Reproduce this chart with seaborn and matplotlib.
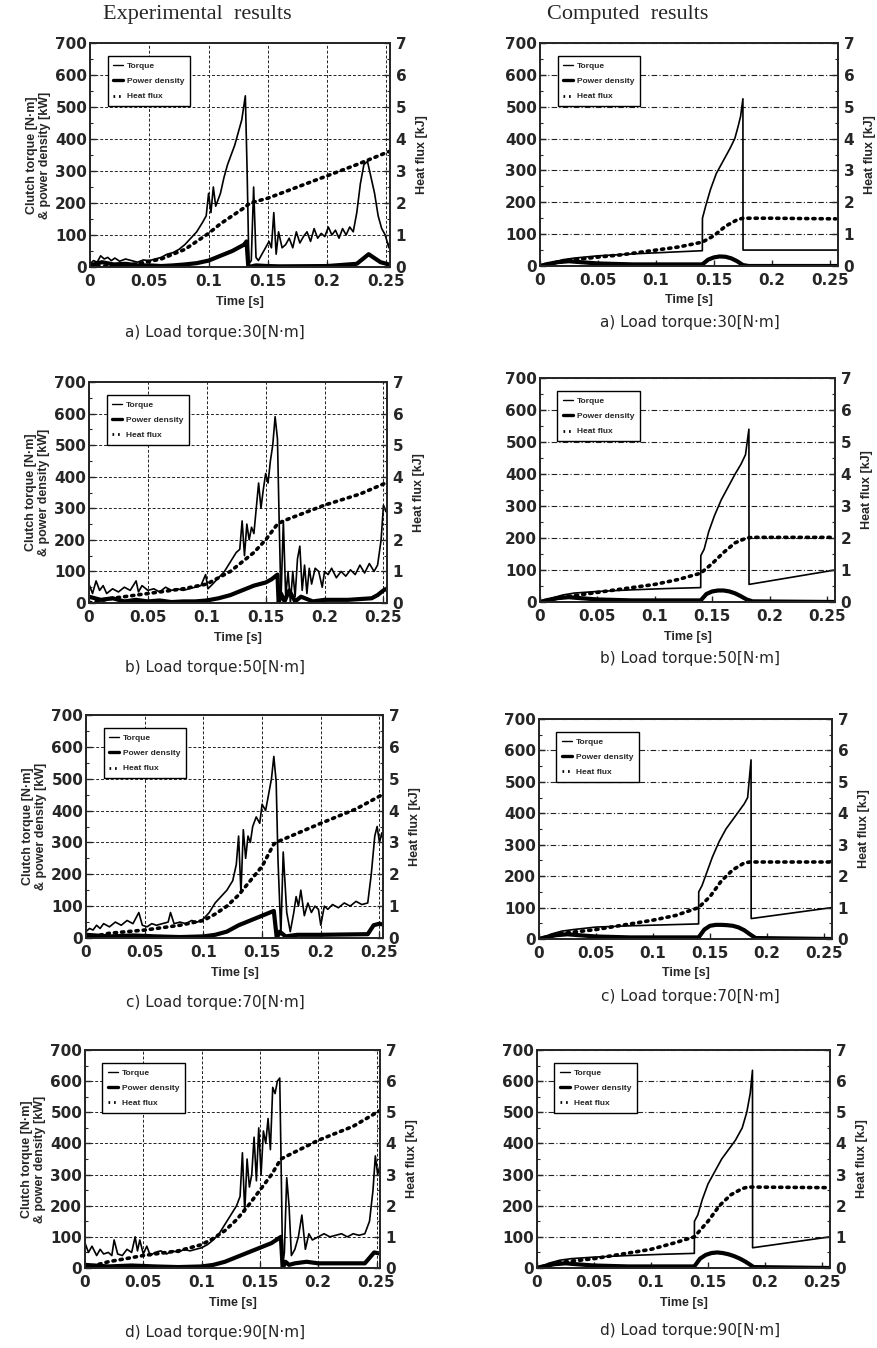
import numpy as np
import pandas as pd
import seaborn as sns
import matplotlib.pyplot as plt
from matplotlib.lines import Line2D
from matplotlib.ticker import MultipleLocator

# ---------------- Data ----------------
# Experimental results, load torque 30 N·m
exp30_torque_t = [0, .003, .006, .009, .012, .015, .018, .021, .025, .03, .035, .04, .045, .05, .055, .06,
                  .065, .07, .075, .08, .085, .09, .095, .098, .1, .102, .104, .106, .108, .11, .113, .116,
                  .119, .122, .125, .128, .131, .1325, .134, .136, .138, .14, .142, .145, .148, .151, .153,
                  .155, .157, .159, .162, .165, .168, .171, .174, .177, .18, .183, .186, .189, .192, .195,
                  .198, .201, .204, .207, .21, .213, .216, .219, .222, .225, .228, .231, .234, .237, .24,
                  .243, .246, .249, .252, .255]
exp30_torque = [10, 20, 15, 35, 25, 30, 20, 28, 18, 25, 20, 15, 22, 20, 25, 30,
                40, 45, 55, 70, 90, 110, 140, 160, 230, 170, 250, 190, 210, 230, 280, 320,
                350, 380, 420, 460, 535, 300, 10, 20, 250, 30, 20, 40, 60, 80, 60,
                170, 40, 110, 60, 70, 90, 60, 110, 75, 95, 110, 80, 120, 90, 105,
                95, 125, 100, 115, 90, 120, 100, 125, 110, 170, 260, 320, 330, 280, 230,
                160, 120, 100, 60, 130]
exp30_power_t = [0, .01, .02, .03, .04, .05, .06, .07, .08, .09, .1, .11, .12, .13, .132, .1335,
                 .14, .15, .16, .2, .225, .235, .245, .255]
exp30_power = [5, 15, 8, 10, 5, 5, 3, 5, 8, 12, 20, 35, 50, 70, 80, 0,
               5, 3, 2, 3, 10, 40, 15, 5]
exp30_heat_t = [0, .02, .04, .06, .07, .08, .09, .1, .11, .12, .13, .135, .15, .175, .2, .225, .255]
exp30_heat = [0, .03, .1, .25, .4, .55, .8, 1.05, 1.35, 1.6, 1.85, 2.0, 2.15, 2.5, 2.85, 3.2, 3.65]

# Experimental results, load torque 50 N·m
exp50_torque_t = [0, .003, .006, .009, .012, .015, .02, .025, .03, .035, .04, .042, .045, .05, .055, .06,
                  .065, .07, .075, .08, .085, .09, .095, .099, .101, .105, .11, .115, .12, .125, .128, .13,
                  .132, .134, .136, .138, .14, .142, .144, .146, .148, .15, .152, .154, .156, .158, .16,
                  .1615, .163, .165, .167, .169, .171, .173, .175, .177, .179, .181, .183, .185, .187, .189,
                  .192, .195, .198, .2, .203, .206, .21, .214, .218, .222, .226, .23, .234, .238, .242,
                  .245, .248, .25, .252, .255]
exp50_torque = [60, 30, 70, 40, 55, 30, 45, 35, 50, 40, 70, 35, 55, 40, 45, 35,
                50, 40, 45, 40, 45, 50, 55, 90, 45, 60, 80, 100, 130, 160, 170, 260,
                150, 250, 200, 240, 220, 300, 380, 300, 360, 410, 380, 450, 500, 590, 520,
                250, 10, 260, 20, 100, 0, 100, 20, 140, 180, 40, 120, 30, 110, 60,
                110, 100, 50, 100, 90, 110, 80, 100, 85, 105, 90, 120, 95, 125, 100,
                120, 200, 310, 290, 280]
exp50_power_t = [0, .01, .02, .03, .04, .05, .06, .07, .08, .09, .1, .11, .12, .13, .14, .15, .155, .16,
                 .161, .163, .166, .17, .175, .18, .19, .2, .22, .24, .245, .25, .255]
exp50_power = [20, 10, 15, 5, 10, 5, 8, 3, 5, 5, 8, 15, 25, 40, 55, 65, 75, 90,
               0, 30, 5, 40, 5, 20, 5, 10, 10, 15, 25, 40, 50]
exp50_heat_t = [0, .02, .05, .08, .1, .11, .12, .13, .14, .15, .16, .165, .2, .23, .255]
exp50_heat = [0, .15, .3, .45, .6, .8, 1.0, 1.3, 1.6, 2.0, 2.5, 2.6, 3.1, 3.45, 3.85]

# Experimental results, load torque 70 N·m
exp70_torque_t = [0, .003, .006, .009, .012, .015, .02, .025, .03, .035, .04, .045, .048, .052, .056, .06,
                  .065, .07, .072, .075, .08, .085, .09, .095, .1, .105, .11, .115, .12, .125, .128, .13,
                  .132, .134, .136, .138, .14, .142, .145, .148, .15, .153, .156, .158, .16, .162, .1635,
                  .166, .168, .171, .174, .177, .179, .181, .183, .186, .189, .192, .195, .198, .2, .203,
                  .206, .21, .215, .22, .225, .23, .235, .24, .243, .246, .248, .25, .252, .255]
exp70_torque = [20, 30, 25, 40, 30, 45, 35, 50, 40, 55, 45, 80, 40, 35, 45, 40,
                45, 50, 80, 45, 50, 45, 55, 50, 60, 80, 110, 130, 150, 180, 230, 320,
                140, 340, 250, 320, 300, 350, 380, 360, 420, 400, 460, 500, 570, 490, 250,
                10, 270, 80, 20, 80, 130, 100, 150, 70, 110, 80, 100, 90, 40, 100,
                90, 105, 95, 110, 100, 115, 105, 110, 200, 320, 350, 300, 330, 270]
exp70_power_t = [0, .02, .04, .06, .08, .1, .11, .12, .13, .14, .15, .16, .1625, .165, .17, .18, .2, .24,
                 .245, .25, .255]
exp70_power = [10, 5, 8, 5, 3, 5, 10, 20, 40, 55, 70, 85, 0, 20, 5, 10, 10, 12,
               40, 45, 40]
exp70_heat_t = [0, .02, .05, .08, .1, .11, .12, .13, .14, .15, .155, .16, .165, .2, .23, .255]
exp70_heat = [0, .15, .25, .4, .55, .75, 1.0, 1.35, 1.8, 2.25, 2.6, 2.95, 3.05, 3.6, 4.05, 4.55]

# Experimental results, load torque 90 N·m
exp90_torque_t = [0, .003, .006, .01, .013, .016, .02, .023, .025, .028, .032, .036, .04, .043, .045, .047,
                  .05, .053, .056, .06, .065, .07, .075, .08, .085, .09, .095, .1, .105, .11, .115, .12,
                  .125, .13, .133, .135, .137, .139, .141, .143, .145, .147, .149, .151, .153, .155, .157,
                  .159, .161, .163, .165, .167, .168, .1695, .171, .173, .175, .177, .18, .183, .186, .189,
                  .192, .195, .2, .205, .21, .215, .22, .225, .23, .235, .24, .244, .247, .249, .251,
                  .253, .255]
exp90_torque = [80, 50, 70, 40, 60, 45, 50, 40, 90, 45, 40, 60, 50, 100, 55, 90,
                45, 70, 40, 50, 55, 45, 55, 50, 60, 55, 60, 65, 75, 90, 110, 140,
                170, 200, 230, 370, 180, 350, 260, 300, 420, 280, 450, 300, 440, 400, 480,
                380, 580, 560, 600, 610, 380, 10, 50, 290, 200, 40, 60, 100, 170, 60,
                110, 90, 100, 110, 100, 105, 110, 100, 110, 105, 110, 150, 250, 360, 300,
                330, 310]
exp90_power_t = [0, .02, .04, .06, .08, .1, .11, .12, .13, .14, .15, .16, .168, .1695, .172, .175, .18,
                 .19, .2, .24, .248, .255]
exp90_power = [10, 5, 8, 5, 3, 5, 10, 20, 35, 50, 65, 80, 100, 0, 20, 10, 15,
               20, 15, 15, 50, 45]
exp90_heat_t = [0, .02, .05, .08, .1, .11, .12, .13, .14, .15, .16, .168, .2, .23, .255]
exp90_heat = [0, .2, .4, .55, .75, .95, 1.2, 1.55, 2.0, 2.5, 3.0, 3.5, 4.1, 4.55, 5.1]

# Computed results, load torque 30 N·m
cmp30_torque_t = [.003, .01, .02, .03, .05, .08, .11, .14, .1401, .143, .147, .152, .158, .164, .168,
                  .171, .173, .175, .1751, .257]
cmp30_torque = [0, 10, 20, 25, 32, 38, 43, 48, 150, 190, 240, 290, 330, 370, 400,
                440, 470, 525, 50, 50]
cmp30_power_t = [0, .005, .015, .025, .035, .05, .08, .14, .145, .15, .155, .16, .165, .17, .175, .18, .257]
cmp30_power = [0, 5, 12, 15, 12, 8, 5, 5, 20, 27, 30, 29, 24, 15, 3, 0, 0]
cmp30_heat_t = [0, .01, .02, .03, .05, .07, .1, .12, .14, .15, .16, .17, .175, .2, .255]
cmp30_heat = [0, .08, .15, .2, .28, .35, .5, .6, .75, .95, 1.25, 1.45, 1.5, 1.5, 1.48]

# Computed results, load torque 50 N·m
cmp50_torque_t = [.003, .01, .02, .03, .05, .08, .11, .14, .1401, .143, .147, .152, .158, .164, .17,
                  .175, .179, .182, .1821, .257]
cmp50_torque = [0, 12, 22, 28, 33, 38, 42, 45, 145, 165, 220, 270, 320, 360, 400,
                430, 460, 540, 55, 100]
cmp50_power_t = [0, .005, .015, .025, .035, .05, .08, .14, .145, .15, .155, .16, .165, .17, .175, .18,
                 .185, .257]
cmp50_power = [0, 5, 12, 15, 12, 8, 5, 5, 25, 33, 36, 36, 33, 27, 18, 8, 2, 0]
cmp50_heat_t = [0, .01, .02, .03, .05, .07, .1, .12, .14, .15, .16, .17, .18, .185, .255]
cmp50_heat = [0, .08, .15, .2, .3, .4, .55, .7, .9, 1.2, 1.55, 1.85, 2.0, 2.02, 2.02]

# Computed results, load torque 70 N·m
cmp70_torque_t = [.003, .01, .02, .03, .05, .08, .11, .14, .1401, .143, .147, .152, .158, .164, .17,
                  .176, .18, .183, .186, .1861, .257]
cmp70_torque = [0, 15, 25, 30, 38, 42, 45, 48, 150, 170, 210, 260, 310, 350, 380,
                410, 430, 450, 570, 65, 100]
cmp70_power_t = [0, .005, .015, .025, .035, .05, .08, .14, .145, .15, .155, .16, .165, .17, .175, .18,
                 .185, .19, .257]
cmp70_power = [0, 5, 12, 15, 12, 8, 5, 5, 30, 42, 45, 45, 44, 42, 37, 28, 15, 3, 0]
cmp70_heat_t = [0, .01, .02, .03, .05, .07, .1, .12, .14, .15, .16, .17, .18, .185, .255]
cmp70_heat = [0, .1, .18, .22, .3, .42, .6, .75, 1.0, 1.35, 1.85, 2.2, 2.42, 2.45, 2.45]

# Computed results, load torque 90 N·m
cmp90_torque_t = [.003, .01, .02, .03, .05, .08, .11, .138, .1381, .141, .145, .15, .156, .162, .168,
                  .174, .18, .184, .187, .189, .1891, .257]
cmp90_torque = [0, 15, 25, 30, 35, 40, 44, 47, 150, 170, 220, 270, 310, 350, 380,
                410, 450, 500, 560, 635, 65, 100]
cmp90_power_t = [0, .005, .015, .025, .035, .05, .08, .138, .143, .148, .153, .158, .163, .168, .173,
                 .178, .183, .188, .19, .257]
cmp90_power = [0, 5, 12, 15, 12, 8, 5, 5, 30, 42, 48, 50, 48, 44, 38, 30, 20, 8, 3, 0]
cmp90_heat_t = [0, .01, .02, .03, .05, .07, .1, .12, .138, .15, .16, .17, .18, .185, .255]
cmp90_heat = [0, .1, .18, .22, .3, .42, .6, .8, 1.0, 1.5, 2.0, 2.35, 2.55, 2.6, 2.58]

x_ticks = [0, 0.05, 0.1, 0.15, 0.2, 0.25]
x_tick_labels = ['0', '0.05', '0.1', '0.15', '0.2', '0.25']
left_ticks = [0, 100, 200, 300, 400, 500, 600, 700]
right_ticks = [0, 1, 2, 3, 4, 5, 6, 7]
legend_labels = ['Torque', 'Power density', 'Heat flux']
captions = ['a) Load torque:30[N\u00b7m]', 'b) Load torque:50[N\u00b7m]',
            'c) Load torque:70[N\u00b7m]', 'd) Load torque:90[N\u00b7m]']

# ---------------- Styling ----------------
sns.set_style('ticks')
plt.rcParams['font.family'] = ['DejaVu Sans']
plt.rcParams['axes.linewidth'] = 1.3

W, H = 878, 1348
fig = plt.figure(figsize=(W / 100, H / 100), dpi=100)

TICK_FONT = dict(family='DejaVu Sans', weight='bold', size=11)
LAB_FONT = dict(family='Liberation Sans', weight='bold', size=9)
HEAT_STYLE = (0, (0.6, 1.4))


def rect(x0, y0, x1, y1):
    return [x0 / W, 1 - y1 / H, (x1 - x0) / W, (y1 - y0) / H]


def draw_panel(box, torque_t, torque, power_t, power, heat_t, heat, xmax,
               experimental, caption, cap_xy, time_y):
    ax = fig.add_axes(rect(*box))
    ax2 = ax.twinx()

    sns.lineplot(x=torque_t, y=torque, ax=ax, color='black', lw=1.2,
                 estimator=None, sort=False)
    sns.lineplot(x=power_t, y=power, ax=ax, color='black', lw=3.0,
                 estimator=None, sort=False)
    sns.lineplot(x=heat_t, y=heat, ax=ax2, color='black', lw=2.6,
                 linestyle=HEAT_STYLE, dash_capstyle='round',
                 estimator=None, sort=False)

    ax.set_xlim(0, xmax)
    ax.set_ylim(0, 700)
    ax2.set_ylim(0, 7)
    ax.set_xticks(x_ticks)
    ax.set_xticklabels(x_tick_labels)
    ax.set_yticks(left_ticks)
    ax2.set_yticks(right_ticks)
    ax.yaxis.set_minor_locator(MultipleLocator(50))
    ax2.yaxis.set_minor_locator(MultipleLocator(0.5))

    for a in (ax, ax2):
        a.tick_params(which='major', direction='in', length=4, width=1, pad=2)
        a.tick_params(which='minor', direction='in', length=2.5, width=0.8)
        for lbl in a.get_xticklabels() + a.get_yticklabels():
            lbl.set_fontproperties(TICK_FONT)
        for s in a.spines.values():
            s.set_linewidth(1.3)
    ax.tick_params(axis='x', pad=5)
    ax2.tick_params(axis='y', pad=4)

    if experimental:
        ax.grid(True, which='major', ls=(0, (3, 2)), lw=0.7, color='#222222')
        ax.set_ylabel('Clutch torque [N\u00b7m]\n& power density [kW]', fontdict=LAB_FONT,
                      labelpad=3, linespacing=1.15)
    else:
        ax.yaxis.grid(True, which='major', ls=(0, (5, 2, 1, 2)), lw=0.8, color='#222222')
        ax.xaxis.grid(False)
        ax.set_ylabel('')
    ax.set_xlabel('')
    ax2.set_ylabel('Heat flux [kJ]', fontdict=LAB_FONT, labelpad=7)

    cx = (box[0] + box[2]) / 2
    fig.text(cx / W, 1 - time_y / H, 'Time [s]', ha='center', va='center',
             **LAB_FONT)
    fig.text(cap_xy[0] / W, 1 - cap_xy[1] / H, caption, ha='center', va='center',
             family='DejaVu Sans', size=11)

    handles = [Line2D([], [], color='black', lw=1.0),
               Line2D([], [], color='black', lw=2.4),
               Line2D([], [], color='black', lw=2.0, linestyle=(0, (0.6, 1.4)))]
    leg = ax2.legend(handles, legend_labels, loc='upper left',
                     bbox_to_anchor=(0.045, 0.96), frameon=True,
                     fancybox=False, framealpha=1, edgecolor='black',
                     handlelength=1.2, handletextpad=0.4, labelspacing=0.9,
                     borderpad=0.7, prop=dict(family='Liberation Sans', weight='bold', size=6))
    leg.get_frame().set_linewidth(1.0)
    return ax, ax2


exp_sets = [
    (exp30_torque_t, exp30_torque, exp30_power_t, exp30_power, exp30_heat_t, exp30_heat),
    (exp50_torque_t, exp50_torque, exp50_power_t, exp50_power, exp50_heat_t, exp50_heat),
    (exp70_torque_t, exp70_torque, exp70_power_t, exp70_power, exp70_heat_t, exp70_heat),
    (exp90_torque_t, exp90_torque, exp90_power_t, exp90_power, exp90_heat_t, exp90_heat),
]
cmp_sets = [
    (cmp30_torque_t, cmp30_torque, cmp30_power_t, cmp30_power, cmp30_heat_t, cmp30_heat),
    (cmp50_torque_t, cmp50_torque, cmp50_power_t, cmp50_power, cmp50_heat_t, cmp50_heat),
    (cmp70_torque_t, cmp70_torque, cmp70_power_t, cmp70_power, cmp70_heat_t, cmp70_heat),
    (cmp90_torque_t, cmp90_torque, cmp90_power_t, cmp90_power, cmp90_heat_t, cmp90_heat),
]

# panel boxes in pixels (x0, y0, x1, y1)
exp_boxes = [(90, 43, 390, 267), (89, 382, 387, 603), (86, 715, 383, 938), (85, 1050, 380, 1268)]
cmp_boxes = [(540, 43, 838, 266), (540, 378, 835, 602), (539, 719, 832, 939), (537, 1050, 830, 1268)]
exp_caps = [(215, 333), (215, 667), (215, 1002), (215, 1333)]
cmp_caps = [(690, 322), (690, 659), (690, 997), (690, 1330)]
exp_time_y = [302, 638, 973, 1303]
cmp_time_y = [300, 637, 973, 1303]

for i in range(4):
    draw_panel(exp_boxes[i], *exp_sets[i], 0.253, True, captions[i], exp_caps[i], exp_time_y[i])
    draw_panel(cmp_boxes[i], *cmp_sets[i], 0.257, False, captions[i], cmp_caps[i], cmp_time_y[i])

fig.text(197 / W, 1 - 15 / H, 'Experimental  results', ha='center', va='center',
         family='Liberation Serif', size=16)
fig.text(628 / W, 1 - 15 / H, 'Computed  results', ha='center', va='center',
         family='Liberation Serif', size=16)

fig.savefig('out.png', dpi=100)
